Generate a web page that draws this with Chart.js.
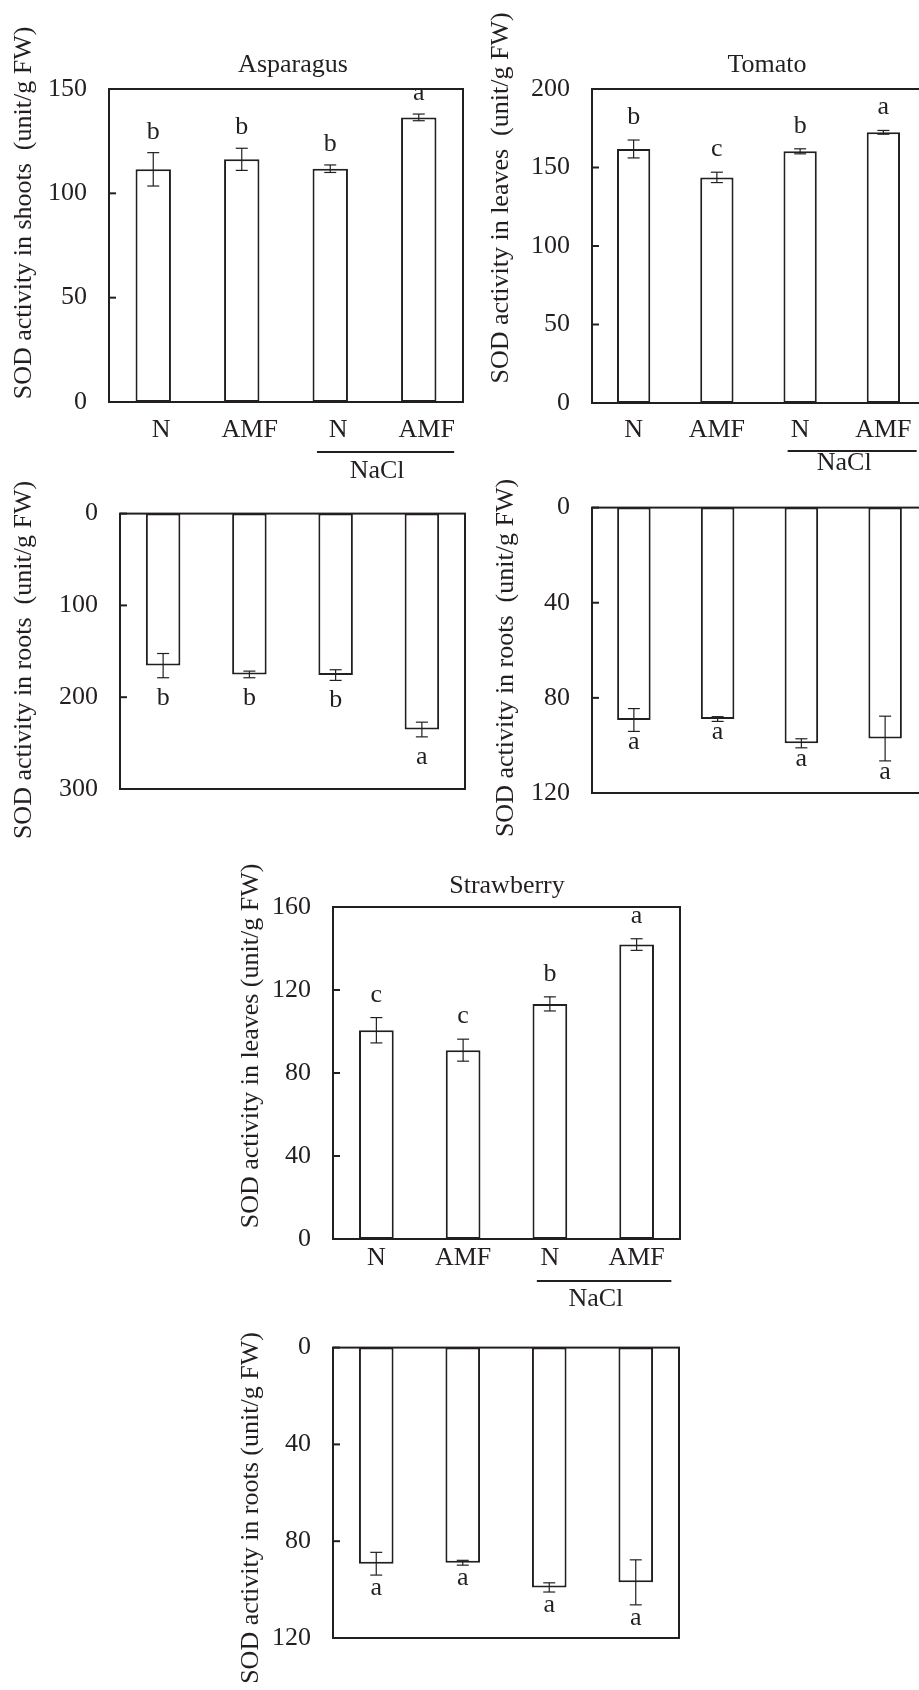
<!DOCTYPE html>
<html>
<head>
<meta charset="utf-8">
<script src="https://cdn.jsdelivr.net/npm/chart.js@4.4.0/dist/chart.umd.min.js"></script>
<style>
  html, body { margin: 0; padding: 0; background: #fff; overflow: hidden; }
  body { width: 919px; height: 1690px; position: relative; }
  canvas { position: absolute; }
</style>
</head>
<body>
<canvas id="aspShoots"></canvas>
<canvas id="aspRoots"></canvas>
<canvas id="tomLeaves"></canvas>
<canvas id="tomRoots"></canvas>
<canvas id="strLeaves"></canvas>
<canvas id="strRoots"></canvas>
<script>
// treatments (last two are under NaCl)
const groups = ['N', 'AMF', 'N', 'AMF'];

// SOD activity (unit/g FW), mean and error
const asparagusShoots = [111.5, 116.3, 111.8, 136.4];
const asparagusShootsErr = [8.0, 5.3, 1.8, 1.6];
const asparagusShootsSig = ['b', 'b', 'b', 'a'];

const asparagusRoots = [165.6, 175.2, 175.9, 235.2];
const asparagusRootsErr = [13.2, 3.6, 5.8, 8.0];
const asparagusRootsSig = ['b', 'b', 'b', 'a'];

const tomatoLeaves = [161.8, 143.7, 160.3, 172.4];
const tomatoLeavesErr = [5.7, 3.3, 1.6, 1.2];
const tomatoLeavesSig = ['b', 'c', 'b', 'a'];

const tomatoRoots = [89.3, 88.9, 99.1, 97.1];
const tomatoRootsErr = [4.8, 1.0, 1.9, 9.4];
const tomatoRootsSig = ['a', 'a', 'a', 'a'];

const strawberryLeaves = [100.6, 91.0, 113.3, 141.9];
const strawberryLeavesErr = [6.1, 5.3, 3.4, 2.8];
const strawberryLeavesSig = ['c', 'c', 'b', 'a'];

const strawberryRoots = [89.3, 88.9, 99.1, 97.0];
const strawberryRootsErr = [4.7, 1.0, 1.9, 9.3];
const strawberryRootsSig = ['a', 'a', 'a', 'a'];

const FONT = '"Liberation Serif", "Times New Roman", serif';
const INK = '#231f20';

// canvas: [left, top, width, height], box: plot area [l, t, r, b], page pixels
const panels = [
  { id: 'aspShoots', canvas: [0, 0, 470, 486], box: [109, 89, 463, 402],
    values: asparagusShoots, errors: asparagusShootsErr, letters: asparagusShootsSig,
    min: 0, max: 150, step: 50, reverse: false,
    title: 'Asparagus', titlePos: [293, 72],
    yTitle: 'SOD activity in shoots  (unit/g FW)', yTitlePos: [31, 213],
    xLabels: true, labelPad: 13, labelOffset: 8, nacl: [50, 69.5], letterGap: 14 },
  { id: 'aspRoots', canvas: [0, 476, 470, 364], box: [120, 498, 465, 789],
    values: asparagusRoots, errors: asparagusRootsErr, letters: asparagusRootsSig,
    min: 0, max: 300, step: 100, reverse: true,
    yTitle: 'SOD activity in roots  (unit/g FW)', yTitlePos: [31, 660],
    xLabels: false, letterGap: 27 },
  { id: 'tomLeaves', canvas: [470, 0, 462, 486], box: [592, 89, 925, 403],
    values: tomatoLeaves, errors: tomatoLeavesErr, letters: tomatoLeavesSig,
    min: 0, max: 200, step: 50, reverse: false,
    title: 'Tomato', titlePos: [767, 72],
    yTitle: 'SOD activity in leaves  (unit/g FW)', yTitlePos: [508, 198],
    xLabels: true, labelPad: 12, labelOffset: 0, nacl: [48, 60], letterGap: 16 },
  { id: 'tomRoots', canvas: [470, 470, 462, 370], box: [592, 500, 927, 793],
    values: tomatoRoots, errors: tomatoRootsErr, letters: tomatoRootsSig,
    min: 0, max: 120, step: 40, reverse: true,
    yTitle: 'SOD activity in roots  (unit/g FW)', yTitlePos: [513, 658],
    xLabels: false, letterGap: 18 },
  { id: 'strLeaves', canvas: [220, 846, 480, 470], box: [333, 907, 680, 1239],
    values: strawberryLeaves, errors: strawberryLeavesErr, letters: strawberryLeavesSig,
    min: 0, max: 160, step: 40, reverse: false,
    title: 'Strawberry', titlePos: [507, 893],
    yTitle: 'SOD activity in leaves (unit/g FW)', yTitlePos: [258, 1046],
    xLabels: true, labelPad: 3.5, labelOffset: 0, nacl: [42, 60], letterGap: 16 },
  { id: 'strRoots', canvas: [220, 1310, 480, 380], box: [333, 1330, 679, 1638],
    values: strawberryRoots, errors: strawberryRootsErr, letters: strawberryRootsSig,
    min: 0, max: 120, step: 40, reverse: true,
    yTitle: 'SOD activity in roots (unit/g FW)', yTitlePos: [258, 1508],
    xLabels: false, letterGap: 20 }
];

function line(ctx, x1, y1, x2, y2) {
  ctx.beginPath();
  ctx.moveTo(x1, y1);
  ctx.lineTo(x2, y2);
  ctx.stroke();
}

// box, inward ticks, error bars, letters, titles and the NaCl bracket
function decor(p) {
  return {
    id: 'decor_' + p.id,
    afterDraw(chart) {
      const ctx = chart.ctx, a = chart.chartArea;
      const xs = chart.scales.x, ys = chart.scales.y;
      const ox = p.canvas[0], oy = p.canvas[1];
      ctx.save();
      ctx.strokeStyle = INK;
      ctx.fillStyle = INK;

      ctx.lineWidth = 2;
      ctx.strokeRect(a.left, a.top, a.right - a.left, a.bottom - a.top);
      ys.ticks.forEach(t => {
        const y = ys.getPixelForValue(t.value);
        line(ctx, a.left, y, a.left + 7, y);
      });

      ctx.font = '26px ' + FONT;
      ctx.textAlign = 'center';
      ctx.textBaseline = 'alphabetic';
      const meta = chart.getDatasetMeta(0);
      meta.data.forEach((bar, i) => {
        const v = p.values[i], e = p.errors[i];
        const y1 = ys.getPixelForValue(v + e);
        const y2 = ys.getPixelForValue(v - e);
        ctx.lineWidth = 1.2;
        line(ctx, bar.x, y1, bar.x, y2);
        line(ctx, bar.x - 6, y1, bar.x + 6, y1);
        line(ctx, bar.x - 6, y2, bar.x + 6, y2);
        const ly = p.reverse ? Math.max(y1, y2) + p.letterGap : Math.min(y1, y2) - p.letterGap;
        ctx.fillText(p.letters[i], bar.x, ly);
      });

      if (p.title) {
        ctx.fillText(p.title, p.titlePos[0] - ox, p.titlePos[1] - oy);
      }

      if (p.nacl) {
        const c3 = xs.getPixelForValue(2), c4 = xs.getPixelForValue(3);
        const w = c4 - c3;
        const ly = a.bottom + p.nacl[0];
        ctx.lineWidth = 2;
        line(ctx, c3 - 0.15 * w, ly, c4 + 0.4 * w, ly);
        ctx.textBaseline = 'middle';
        ctx.fillText('NaCl', (c3 + c4) / 2 + 0.03 * w, a.bottom + p.nacl[1]);
      }

      ctx.translate(p.yTitlePos[0] - ox, p.yTitlePos[1] - oy);
      ctx.rotate(-Math.PI / 2);
      ctx.textBaseline = 'alphabetic';
      ctx.fillText(p.yTitle, 0, 0);
      ctx.restore();
    }
  };
}

function buildPanel(p) {
  const cv = document.getElementById(p.id);
  const [cx, cy, cw, ch] = p.canvas;
  const [bl, bt, br, bb] = p.box;
  cv.width = cw;
  cv.height = ch;
  cv.style.left = cx + 'px';
  cv.style.top = cy + 'px';
  const ML = bl - cx, MT = bt - cy, MR = cx + cw - br, MB = cy + ch - bb;

  new Chart(cv, {
    type: 'bar',
    data: {
      labels: groups,
      datasets: [{
        data: p.values,
        backgroundColor: '#ffffff',
        borderColor: INK,
        borderWidth: 2,
        borderSkipped: false,
        barPercentage: 0.4,
        categoryPercentage: 1
      }]
    },
    options: {
      responsive: false,
      animation: false,
      devicePixelRatio: 1,
      layout: { padding: { left: 0, top: MT, right: MR, bottom: 0 } },
      plugins: {
        legend: { display: false },
        tooltip: { enabled: false },
        title: { display: false }
      },
      scales: {
        x: {
          grid: { display: false, drawTicks: false },
          border: { display: false },
          ticks: {
            display: p.xLabels,
            color: INK,
            font: { family: FONT, size: 26 },
            padding: p.labelPad || 0,
            labelOffset: p.labelOffset || 0,
            maxRotation: 0,
            autoSkip: false
          },
          afterFit: s => { s.height = MB; }
        },
        y: {
          min: p.min,
          max: p.max,
          reverse: p.reverse,
          grid: { display: false, drawTicks: false },
          border: { display: false },
          ticks: {
            stepSize: p.step,
            color: INK,
            font: { family: FONT, size: 26 },
            padding: 22
          },
          afterFit: s => { s.width = ML; }
        }
      }
    },
    plugins: [decor(p)]
  });
}

panels.forEach(buildPanel);
</script>
</body>
</html>
